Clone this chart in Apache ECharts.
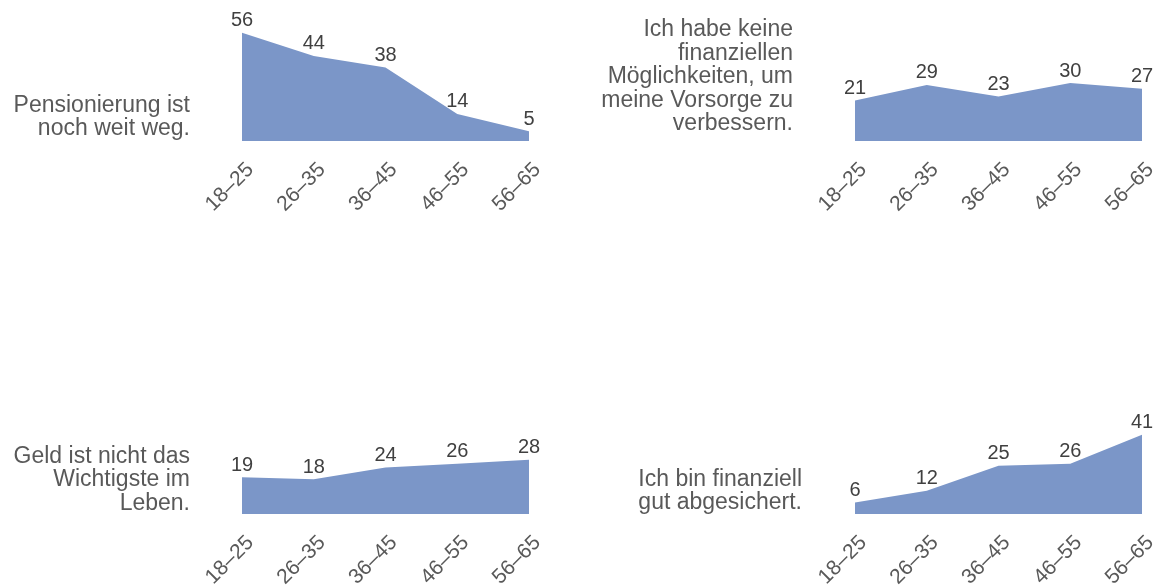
<!DOCTYPE html>
<html>
<head>
<meta charset="utf-8">
<script src="https://cdn.jsdelivr.net/npm/echarts@6/dist/echarts.min.js"></script>
<style>
  html, body { margin: 0; padding: 0; background: #fff; }
  #chart { width: 1161px; height: 586px; }
</style>
</head>
<body>
<div id="chart"></div>
<script>
// Altersgruppen
var ageGroups = ['18–25', '26–35', '36–45', '46–55', '56–65'];

// Zustimmung in % je Aussage
var pensionFar = [56, 44, 38, 14, 5];
var noMeans = [21, 29, 23, 30, 27];
var moneyNotAll = [19, 18, 24, 26, 28];
var wellSecured = [6, 12, 25, 26, 41];

var statements = [
    'Pensionierung ist\nnoch weit weg.',
    'Ich habe keine\nfinanziellen\nMöglichkeiten, um\nmeine Vorsorge zu\nverbessern.',
    'Geld ist nicht das\nWichtigste im\nLeben.',
    'Ich bin finanziell\ngut abgesichert.'
];

var FONT = 'Liberation Sans, Arial, Helvetica, sans-serif';
var AREA = '#7b96c8';

var chart = echarts.init(document.getElementById('chart'));

// feste Plotflächen, Beschriftungen dürfen über den Rand hinaus
var grids = [
    { left: 242, width: 287, top: 25, height: 116, outerBoundsMode: 'none' },
    { left: 855, width: 287, top: 25, height: 116, outerBoundsMode: 'none' },
    { left: 242, width: 287, top: 398, height: 116, outerBoundsMode: 'none' },
    { left: 855, width: 287, top: 398, height: 116, outerBoundsMode: 'none' }
];

var seriesData = [pensionFar, noMeans, moneyNotAll, wellSecured];

var xAxes = [], yAxes = [], series = [];
for (var i = 0; i < 4; i++) {
    xAxes.push({
        type: 'category',
        gridIndex: i,
        data: ageGroups,
        boundaryGap: false,
        axisLine: { show: false },
        axisTick: { show: false },
        axisLabel: {
            rotate: 45,
            margin: 34,
            padding: [0, -12, 0, 0],
            interval: 0,
            fontSize: 21,
            color: '#595959',
            fontFamily: FONT
        },
        splitLine: { show: false }
    });
    yAxes.push({
        type: 'value',
        gridIndex: i,
        min: 0,
        max: 60,
        show: false
    });
    series.push({
        type: 'line',
        xAxisIndex: i,
        yAxisIndex: i,
        data: seriesData[i],
        symbol: 'circle',
        symbolSize: 0,
        showSymbol: true,
        lineStyle: { width: 0 },
        areaStyle: { color: AREA, opacity: 1 },
        label: {
            show: true,
            position: 'top',
            distance: 2,
            fontSize: 20,
            color: '#404040',
            fontFamily: FONT
        },
        silent: true
    });
}

// Aussagen links neben den Flächen
var textPos = [
    { x: 190, y: 117 },
    { x: 793, y: 77 },
    { x: 190, y: 480 },
    { x: 802, y: 491 }
];
var graphics = statements.map(function (t, k) {
    return {
        type: 'text',
        x: textPos[k].x,
        y: textPos[k].y,
        style: {
            text: t,
            align: 'right',
            verticalAlign: 'middle',
            fontSize: 23,
            lineHeight: 23.5,
            fontFamily: FONT,
            fill: '#595959'
        }
    };
});

chart.setOption({
    animation: false,
    grid: grids,
    xAxis: xAxes,
    yAxis: yAxes,
    series: series,
    graphic: graphics
});
</script>
</body>
</html>
